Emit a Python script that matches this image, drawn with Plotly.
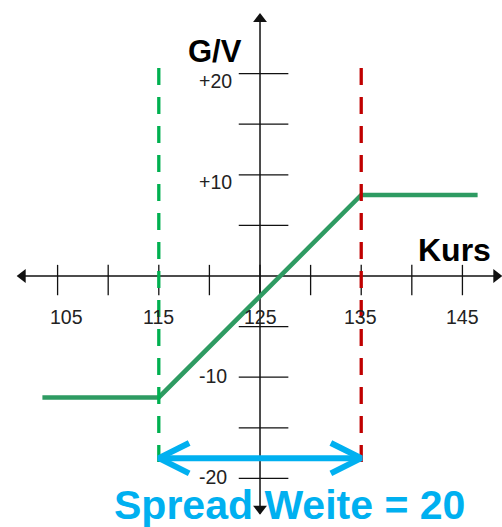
import plotly.graph_objects as go

# ---- data ----
strikes = [115, 135]                      # long / short strike
payoff_x = [103.5, 115, 135, 146.5]
payoff_y = [-12, -12, 8, 8]
x_ticks = [105, 110, 115, 120, 125, 130, 135, 140, 145]
x_label_vals = [105, 115, 125, 135, 145]
x_label_text = ["105", "115", "125", "135", "145"]
y_ticks = [20, 15, 10, 5, -5, -10, -15, -20]
y_label_vals = [20, 10, -10, -20]
y_label_text = ["+20", "+10", "-10", "-20"]
spread_y = -18
spread_text = "Spread Weite = 20"

# ---- styling constants ----
X0 = 125          # where the vertical axis crosses
XR = [99.31, 148.91]
YR = [-24.80, 27.27]
AX_COL = "#111111"
PAY_COL = "#2E9B62"
GREEN = "#00B050"
RED = "#C00000"
BLUE = "#00B0F0"
FONT = "Liberation Sans, Arial"

fig = go.Figure()

# horizontal axis
fig.add_trace(go.Scatter(x=[101.6, 148.6], y=[0, 0], mode="lines",
                         line=dict(color=AX_COL, width=1.5)))
# vertical axis
fig.add_trace(go.Scatter(x=[X0, X0], y=[25.8, -23.5], mode="lines",
                         line=dict(color=AX_COL, width=1.5)))
# arrow heads of axes
fig.add_trace(go.Scatter(x=[101.55], y=[0], mode="markers",
                         marker=dict(symbol="triangle-left", size=12, color=AX_COL)))
fig.add_trace(go.Scatter(x=[148.35], y=[0], mode="markers",
                         marker=dict(symbol="triangle-right", size=12, color=AX_COL)))
fig.add_trace(go.Scatter(x=[X0], y=[25.4], mode="markers",
                         marker=dict(symbol="triangle-up", size=12, color=AX_COL)))
fig.add_trace(go.Scatter(x=[X0], y=[-23.0], mode="markers",
                         marker=dict(symbol="triangle-down", size=12, color=AX_COL)))

# x ticks
tx, ty = [], []
for v in x_ticks:
    tx += [v, v, None]
    ty += [1.1, -1.9, None]
fig.add_trace(go.Scatter(x=tx, y=ty, mode="lines", line=dict(color=AX_COL, width=1.3)))
# y ticks
ux, uy = [], []
for v in y_ticks:
    ux += [X0 - 2.1, X0 + 2.8, None]
    uy += [v, v, None]
fig.add_trace(go.Scatter(x=ux, y=uy, mode="lines", line=dict(color=AX_COL, width=1.3)))

# payoff
fig.add_trace(go.Scatter(x=payoff_x, y=payoff_y, mode="lines",
                         line=dict(color=PAY_COL, width=4.5)))

# strike dashed lines
for s, c in zip(strikes, [GREEN, RED]):
    fig.add_trace(go.Scatter(x=[s, s], y=[20.55, -19.4], mode="lines",
                             line=dict(color=c, width=3.3, dash="17px,12px")))

# spread double arrow
ax_, ay_ = [strikes[0], strikes[1], None], [spread_y, spread_y, None]
dx, dy = 3.0, 1.5
ax_ += [strikes[0] + dx, strikes[0], strikes[0] + dx, None,
        strikes[1] - dx, strikes[1], strikes[1] - dx]
ay_ += [spread_y + dy, spread_y, spread_y - dy, None,
        spread_y + dy, spread_y, spread_y - dy]
fig.add_trace(go.Scatter(x=ax_, y=ay_, mode="lines",
                         line=dict(color=BLUE, width=6)))

ann = []
x_shifts = [9, 0, 0, -1, 0]
for v, t, xs in zip(x_label_vals, x_label_text, x_shifts):
    ann.append(dict(x=v, y=0, text=t, showarrow=False, xshift=xs, yshift=-41,
                    xanchor="center", yanchor="middle",
                    font=dict(family=FONT, size=19.5, color="#222222")))
y_xs = [-26, -26, -31, -31]
y_ys = [-7, -7, 1, 1]
for v, t, xs, ys in zip(y_label_vals, y_label_text, y_xs, y_ys):
    ann.append(dict(x=X0, y=v, text=t, showarrow=False, xanchor="right", yanchor="middle",
                    xshift=xs, yshift=ys,
                    font=dict(family=FONT, size=19.5, color="#222222")))
ann.append(dict(x=215 / 502, y=1 - 51 / 527, xref="paper", yref="paper", text="<b>G/V</b>",
                showarrow=False, xanchor="center", yanchor="middle",
                font=dict(family=FONT, size=31, color="black")))
ann.append(dict(x=454 / 502, y=1 - 250 / 527, xref="paper", yref="paper", text="<b>Kurs</b>",
                showarrow=False, xanchor="center", yanchor="middle",
                font=dict(family=FONT, size=32, color="black")))
ann.append(dict(x=289 / 502, y=1 - 505 / 527, xref="paper", yref="paper",
                text="<b>" + spread_text + "</b>", xanchor="center", yanchor="middle",
                showarrow=False, font=dict(family=FONT, size=41, color=BLUE)))

fig.update_layout(
    width=502, height=527, margin=dict(l=0, r=0, t=0, b=0),
    paper_bgcolor="white", plot_bgcolor="white",
    showlegend=False, hovermode=False,
    xaxis=dict(range=XR, visible=False, fixedrange=True),
    yaxis=dict(range=YR, visible=False, fixedrange=True),
    annotations=ann,
)
fig.write_html("out.html", config={"displayModeBar": False},
               post_script="document.body.style.margin='0px';document.body.style.overflow='hidden';")
